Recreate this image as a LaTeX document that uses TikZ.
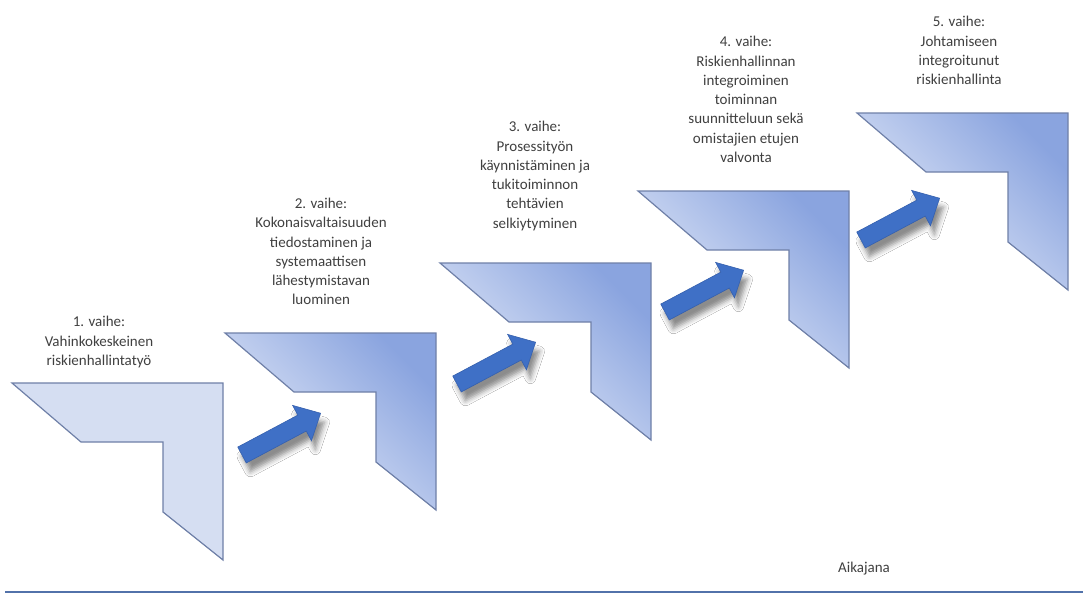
\documentclass[tikz,border=0pt]{standalone}
\usepackage{fontspec}
\setmainfont{Carlito}
\usetikzlibrary{shadows.blur}

\definecolor{stepline}{HTML}{6F80A8}
\definecolor{steplight}{HTML}{EAEFFA}
\definecolor{stepmid}{HTML}{D2DCF4}
\definecolor{stepdark}{HTML}{8AA4DF}
\definecolor{stepflat}{HTML}{D5DEF2}
\definecolor{arrowblue}{HTML}{3F70C6}
\definecolor{arrowedge}{HTML}{3560AE}
\definecolor{labeltext}{HTML}{404040}
\definecolor{axisblue}{HTML}{5272AA}

\tikzset{
  phaselabel/.style={align=center, inner sep=0pt, text=labeltext,
    font=\fontsize{15}{19.3}\selectfont},
  stepflatfill/.style={draw=stepline, line width=1.2pt, fill=stepflat},
  stepshaded/.style={draw=stepline, line width=1.2pt,
    top color=stepdark, middle color=stepmid, bottom color=steplight,
    shading angle=-45},
  blockarrow/.style={fill=arrowblue, draw=arrowedge, line width=0.6pt,
    blur shadow={shadow xshift=4pt, shadow yshift=-9pt,
      shadow blur radius=5pt, shadow opacity=45}},
  timeline/.style={draw=axisblue, line width=2.6pt}
}

% corner-shaped stage outline, origin at its upper-left point
\def\stagepath{(0,0) -- (211,0) -- (211,177) -- (151,129) -- (151,59) -- (69,59) -- cycle}
% block arrow, origin at the middle of its tail
\def\arrowpath{(0,-9) -- (68,-9) -- (68,-20) -- (89,0) -- (68,20) -- (68,9) -- (0,9) -- cycle}

\begin{document}
\begin{tikzpicture}[x=1pt, y=-1pt]
  \useasboundingbox (0,0) rectangle (1083,595);
  \fill[white] (0,0) rectangle (1083,595);

  % stages
  \begin{scope}[shift={(12,383)}]
    \path[stepflatfill] \stagepath;
  \end{scope}
  \begin{scope}[shift={(225,333)}]
    \shade[stepshaded] \stagepath;
  \end{scope}
  \begin{scope}[shift={(440,263)}]
    \shade[stepshaded] \stagepath;
  \end{scope}
  \begin{scope}[shift={(638,191)}]
    \shade[stepshaded] \stagepath;
  \end{scope}
  \begin{scope}[shift={(857,113)}]
    \shade[stepshaded] \stagepath;
  \end{scope}

  % arrows between the stages
  \begin{scope}[shift={(242,455)}, rotate=28]
    \path[blockarrow] \arrowpath;
  \end{scope}
  \begin{scope}[shift={(457,384)}, rotate=28]
    \path[blockarrow] \arrowpath;
  \end{scope}
  \begin{scope}[shift={(665,312)}, rotate=28]
    \path[blockarrow] \arrowpath;
  \end{scope}
  \begin{scope}[shift={(861,240)}, rotate=28]
    \path[blockarrow] \arrowpath;
  \end{scope}

  % stage labels
  \node[phaselabel] (v1) at (99,342) {1. vaihe:\\Vahinkokeskeinen\\riskienhallintatyö};
  \node[phaselabel] (v2) at (321,251.5) {2. vaihe:\\Kokonaisvaltaisuuden\\tiedostaminen ja\\systemaattisen\\lähestymistavan\\luominen};
  \node[phaselabel] (v3) at (535,176) {3. vaihe:\\Prosessityön\\käynnistäminen ja\\tukitoiminnon\\tehtävien\\selkiytyminen};
  \node[phaselabel] (v4) at (746,99.5) {4. vaihe:\\Riskienhallinnan\\integroiminen\\toiminnan\\suunnitteluun sekä\\omistajien etujen\\valvonta};
  \node[phaselabel] (v5) at (959,50.5) {5. vaihe:\\Johtamiseen\\integroitunut\\riskienhallinta};

  % time axis
  \coordinate (axisstart) at (5,592);
  \coordinate (axisend) at (1083,592);
  \draw[timeline] (axisstart) -- (axisend);
  \node[phaselabel] (axislabel) at (864,569) {Aikajana};
\end{tikzpicture}
\end{document}
